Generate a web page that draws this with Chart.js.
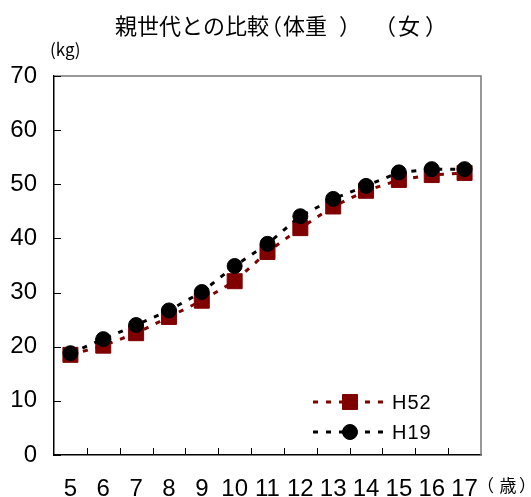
<!DOCTYPE html>
<html>
<head>
<meta charset="utf-8">
<script src="https://cdn.jsdelivr.net/npm/chart.js@4.4.1/dist/chart.umd.min.js"></script>
<style>
  html, body { margin: 0; padding: 0; background: #fff; }
  #wrap { width: 531px; height: 497px; position: relative; }
</style>
</head>
<body>
<div id="wrap"><canvas id="c" width="531" height="497"></canvas></div>
<script>
// Ages (categories) and mean body weight of girls, in kg
const ages = ['5', '6', '7', '8', '9', '10', '11', '12', '13', '14', '15', '16', '17'];
const weightH52 = [18.5, 20.2, 22.5, 25.5, 28.5, 32.1, 37.5, 41.9, 45.9, 48.8, 50.8, 51.7, 52.1];
const weightH19 = [18.8, 21.4, 24.0, 26.7, 30.1, 34.9, 39.0, 44.1, 47.3, 49.7, 52.2, 52.8, 52.8];
const seriesNames = ['H52', 'H19'];
const yTicks = [0, 10, 20, 30, 40, 50, 60, 70];

// Title pieces, laid out one by one so the bracket spacing stays fixed
// ('ink' pieces are centred on their visible glyph)
const titlePieces = [
  { text: '親世代との比較', x: 115, align: 'left' },
  { text: '（', x: 278, align: 'ink' },
  { text: '体重', x: 283, align: 'left' },
  { text: '）', x: 343, align: 'ink' },
  { text: '（', x: 392, align: 'ink' },
  { text: '女', x: 398, align: 'left' },
  { text: '）', x: 429, align: 'ink' }
];
const yUnit = '(kg)';
const xUnitPieces = [
  { text: '（', x: 491, align: 'ink' },
  { text: '歳', x: 499.5, align: 'left' },
  { text: '）', x: 522, align: 'ink' }
];

const numFont = '"Liberation Sans Narrow", "Arial Narrow", "Liberation Sans", Arial, sans-serif';
const cjkFont = '"Noto Sans CJK JP", "Noto Sans CJK SC", sans-serif';
const RED = '#800000';
const BLACK = '#000000';

function drawPieces(ctx, pieces, y) {
  pieces.forEach(p => {
    if (p.align === 'ink') {
      ctx.textAlign = 'left';
      const m = ctx.measureText(p.text);
      const x0 = p.x - (m.actualBoundingBoxRight - m.actualBoundingBoxLeft) / 2;
      ctx.fillText(p.text, x0, y);
    } else {
      ctx.textAlign = p.align;
      ctx.fillText(p.text, p.x, y);
    }
  });
}

// Frame, inward ticks, headings and the in-plot legend
const decorations = {
  id: 'decorations',
  afterDatasetsDraw(chart) {
    const ctx = chart.ctx;
    const a = chart.chartArea;
    const xs = chart.scales.x;
    const ys = chart.scales.y;
    ctx.save();

    // top and right edges of the plot frame
    ctx.strokeStyle = '#777';
    ctx.lineWidth = 1.5;
    ctx.beginPath();
    ctx.moveTo(a.left, a.top);
    ctx.lineTo(a.right, a.top);
    ctx.lineTo(a.right, a.bottom);
    ctx.stroke();

    // inward tick marks
    ctx.strokeStyle = '#000';
    ctx.lineWidth = 1;
    ctx.beginPath();
    yTicks.forEach(v => {
      const y = Math.round(ys.getPixelForValue(v)) + 0.5;
      ctx.moveTo(a.left, y);
      ctx.lineTo(a.left + 7, y);
    });
    for (let i = 1; i < ages.length; i++) {
      const x = Math.round((xs.getPixelForValue(i - 1) + xs.getPixelForValue(i)) / 2) + 0.5;
      ctx.moveTo(x, a.bottom);
      ctx.lineTo(x, a.bottom - 7);
    }
    ctx.stroke();

    // title and unit labels
    ctx.fillStyle = '#000';
    ctx.textBaseline = 'middle';
    ctx.font = '22px ' + cjkFont;
    drawPieces(ctx, titlePieces, 26);
    ctx.textAlign = 'left';
    ctx.font = '17px ' + cjkFont;
    ctx.fillText(yUnit, 50, 50);
    drawPieces(ctx, xUnitPieces, 486);

    // legend
    const rows = [402, 432];
    chart.data.datasets.forEach((ds, i) => {
      const y = rows[i];
      ctx.save();
      ctx.strokeStyle = ds.borderColor;
      ctx.lineWidth = ds.borderWidth;
      ctx.setLineDash(ds.borderDash);
      ctx.beginPath();
      ctx.moveTo(313, y);
      ctx.lineTo(389, y);
      ctx.stroke();
      ctx.restore();
      ctx.fillStyle = ds.pointBackgroundColor;
      ctx.strokeStyle = ds.pointBorderColor;
      ctx.lineWidth = 1;
      Chart.helpers.drawPoint(ctx, {
        pointStyle: ds.pointStyle,
        radius: ds.pointRadius,
        borderWidth: 1,
        rotation: 0
      }, 350, y);
      ctx.save();
      ctx.fillStyle = '#000';
      ctx.textAlign = 'left';
      ctx.font = '20px "Liberation Sans", Arial, sans-serif';
      ctx.letterSpacing = '1px';
      ctx.fillText(ds.label, 392, y + 1);
      ctx.restore();
    });
    ctx.restore();
  }
};

new Chart(document.getElementById('c'), {
  type: 'line',
  data: {
    labels: ages,
    datasets: [
      {
        label: seriesNames[0],
        data: weightH52,
        order: 1,
        borderColor: RED,
        borderWidth: 3,
        borderDash: [5, 8],
        pointStyle: 'rect',
        pointRadius: 10.6,
        pointHoverRadius: 10.6,
        pointBackgroundColor: RED,
        pointBorderColor: RED,
        pointBorderWidth: 1,
        fill: false,
        tension: 0
      },
      {
        label: seriesNames[1],
        data: weightH19,
        order: 0,
        borderColor: BLACK,
        borderWidth: 3,
        borderDash: [5, 8],
        pointStyle: 'circle',
        pointRadius: 7.5,
        pointHoverRadius: 7.5,
        pointBackgroundColor: BLACK,
        pointBorderColor: BLACK,
        pointBorderWidth: 1,
        fill: false,
        tension: 0
      }
    ]
  },
  options: {
    responsive: false,
    animation: false,
    events: [],
    layout: { padding: { top: 76, right: 50, left: 0, bottom: 0 } },
    plugins: {
      legend: { display: false },
      title: { display: false },
      tooltip: { enabled: false }
    },
    scales: {
      x: {
        type: 'category',
        offset: true,
        grid: { display: true, offset: true, drawOnChartArea: false, drawTicks: false },
        border: { display: true, color: '#000', width: 1.5 },
        ticks: {
          color: '#000',
          font: { family: numFont, size: 24 },
          padding: 20,
          maxRotation: 0,
          autoSkip: false
        },
        afterFit(scale) { scale.height = 42; }
      },
      y: {
        min: 0,
        max: 70,
        grid: { display: true, drawOnChartArea: false, drawTicks: false },
        border: { display: true, color: '#000', width: 1.5 },
        afterBuildTicks(scale) { scale.ticks = yTicks.map(v => ({ value: v })); },
        ticks: {
          color: '#000',
          font: { family: numFont, size: 24 },
          padding: 17
        },
        afterFit(scale) { scale.width = 54; }
      }
    }
  },
  plugins: [decorations]
});
</script>
</body>
</html>
